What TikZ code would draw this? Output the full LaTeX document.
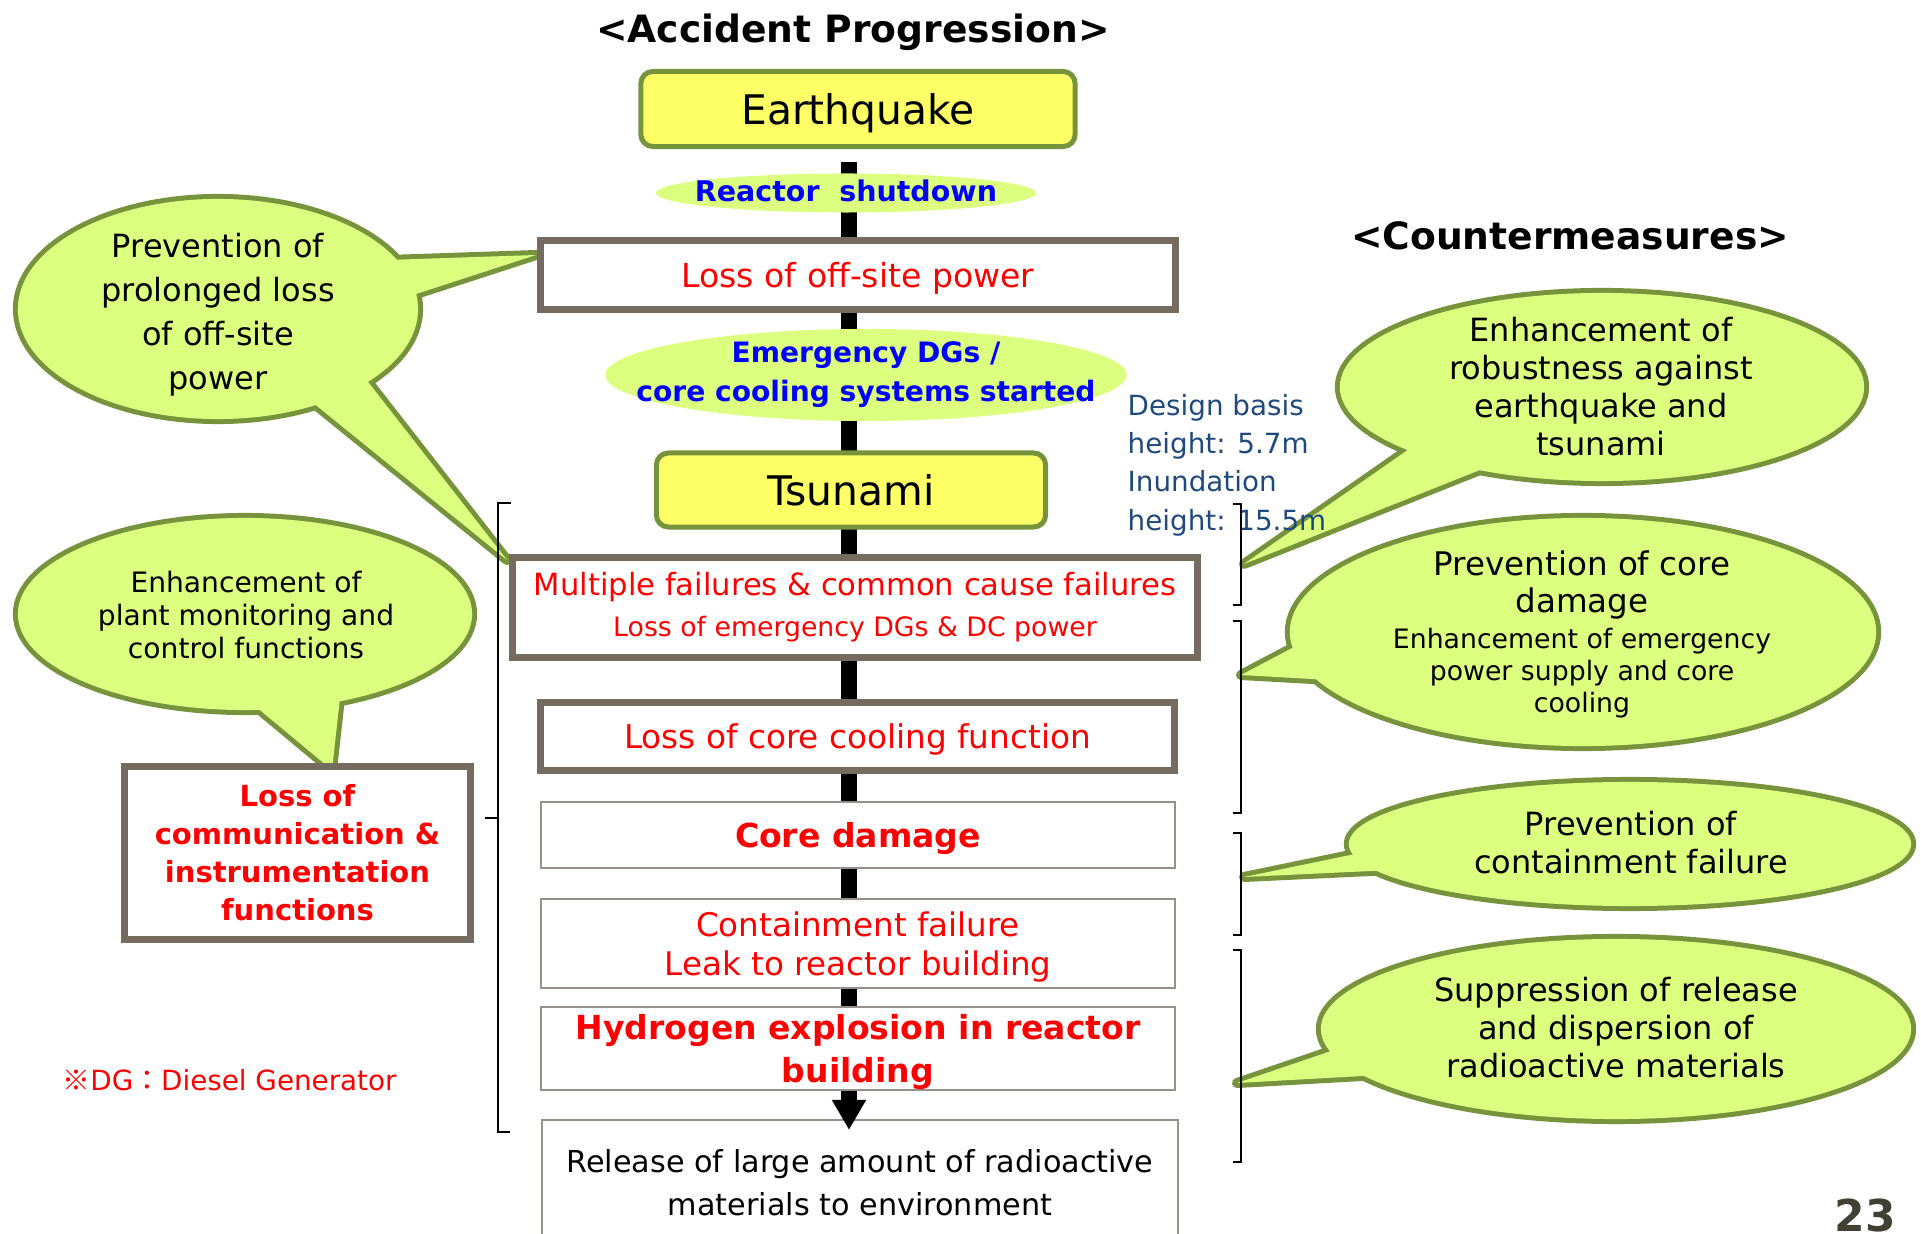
\documentclass[tikz,border=0pt]{standalone}
\usepackage{fontspec}
\setmainfont{DejaVu Sans}
\newfontfamily\cjk{Noto Sans CJK JP}
\usetikzlibrary{arrows.meta,shapes.geometric}

\definecolor{leaf}{RGB}{119,147,60}
\definecolor{lime}{RGB}{221,255,128}
\definecolor{lemon}{RGB}{255,255,102}
\definecolor{stone}{RGB}{117,107,94}
\definecolor{pebble}{RGB}{150,144,138}
\definecolor{navy}{RGB}{31,73,125}
\definecolor{pagegray}{RGB}{64,64,52}

\pgfdeclarelayer{back}
\pgfdeclarelayer{mid}
\pgfsetlayers{back,mid,main}

\newcommand{\sz}[2]{\fontsize{#1}{#2}\selectfont}
% speech bubble part: outline below, fill above
\newcommand{\bubble}[1]{%
  \begin{pgfonlayer}{back}\draw[bubedge] #1;\end{pgfonlayer}%
  \begin{pgfonlayer}{mid}\fill[lime] #1;\end{pgfonlayer}}

\tikzset{
  quakebox/.style={rectangle, draw=leaf, fill=lemon, line width=0.05cm, rounded corners=0.12cm, inner sep=0pt, text depth=0pt},
  thickbox/.style={rectangle, draw=stone, fill=white, line width=0.07cm, inner sep=0pt, align=center, text=red},
  thinbox/.style={rectangle, draw=pebble, fill=white, line width=0.02cm, inner sep=0pt, align=center, text depth=0pt},
  blob/.style={ellipse, fill=lime, inner sep=0pt},
  bluetext/.style={align=center, text=blue, inner sep=0pt},
  bubtext/.style={align=center, inner sep=0pt},
  bubedge/.style={draw=leaf, line width=0.1cm, line join=round},
  spine/.style={line width=0.16cm, black},
  brace/.style={line width=0.02cm, black}
}

\begin{document}
\begin{tikzpicture}[x=0.01cm, y=-0.01cm]
\useasboundingbox (0,0) rectangle (1921,1234);

% titles
\node[anchor=base, font=\bfseries\sz{10.7}{13}] (ttlA) at (853,43) {<Accident Progression>};
\node[anchor=base, font=\bfseries\sz{10.7}{13}] (ttlC) at (1570,250) {<Countermeasures>};

% accident chain
\node[quakebox, minimum width=4.34cm, minimum height=0.75cm, font=\sz{11.6}{14}] (quake) at (858,109) {Earthquake};
\node[blob, minimum width=3.80cm, minimum height=0.39cm] (shut) at (846,193) {};
\node[bluetext, font=\bfseries\sz{8.1}{10}] (shutlbl) at (846,191) {Reactor\ \ shutdown};
\node[thickbox, minimum width=6.35cm, minimum height=0.68cm, text depth=0pt, font=\sz{9.4}{11}] (offsite) at (858,275) {Loss of off-site power};
\node[blob, minimum width=5.21cm, minimum height=0.92cm] (emerg) at (866,375) {};
\node[bluetext, font=\bfseries\sz{8}{11.1}] (emerglbl) at (emerg) {Emergency DGs /\\core cooling systems started};
\node[quakebox, minimum width=3.89cm, minimum height=0.74cm, font=\sz{11.6}{14}] (tsunami) at (851,490) {Tsunami};
\node[thickbox, minimum width=6.85cm, minimum height=0.99cm, font=\sz{8.7}{11.7}] (multi) at (855,607.5)
  {Multiple failures \& common cause failures\\\sz{7.6}{9}Loss of emergency DGs \& DC power};
\node[thickbox, minimum width=6.34cm, minimum height=0.68cm, text depth=0pt, font=\sz{9.3}{11}] (cool) at (857.5,736.5) {Loss of core cooling function};
\node[thinbox, text=red, minimum width=6.34cm, minimum height=0.66cm, font=\bfseries\sz{9.4}{11}] (core) at (858,835) {Core damage};
\node[thinbox, text=red, minimum width=6.34cm, minimum height=0.89cm, font=\sz{9.25}{11.1}] (contain) at (858,943.5) {Containment failure\\Leak to reactor building};
\node[thinbox, text=red, minimum width=6.34cm, minimum height=0.83cm, font=\bfseries\sz{9.4}{12.2}] (hydro) at (858,1048.5) {Hydrogen explosion in reactor\\building};
\node[thinbox, minimum width=6.36cm, minimum height=1.25cm, font=\sz{8.6}{12.2}] (release) at (860,1182.5) {Release of large amount of radioactive\\materials to environment};

\coordinate (spinetop) at (849,162);
\coordinate (spinetip) at (849,1130);
\begin{pgfonlayer}{back}
\draw[spine] (spinetop) -- (spinetop |- hydro.south);
\end{pgfonlayer}
\draw[spine, -{Triangle[width=0.32cm,length=0.30cm]}] (spinetop |- hydro.south) -- (spinetip);

% left side
\node[thickbox, minimum width=3.46cm, minimum height=1.73cm, font=\bfseries\sz{8.25}{10.8}] (comm) at (297.5,853) {Loss of\\communication \&\\instrumentation\\functions};
\node[anchor=west, text=red, inner sep=0pt, font=\sz{7.9}{10}] (dgnote) at (62,1080) {{\cjk ※}DG{\cjk ：}Diesel Generator};
\node[anchor=west, text=navy, align=left, inner sep=0pt, font=\sz{7.9}{10.9}] (basis) at (1127,465) {Design basis\\height: 5.7m\\Inundation\\height: 15.5m};

\draw[brace] (511,503) -- (498,503) -- (498,1132) -- (510,1132);
\draw[brace] (498,818) -- (485,818);
\foreach \a/\b in {504/605, 621/813, 833/935, 950/1162}
  \draw[brace] (1233,\a) -- (1241,\a) -- (1241,\b) -- (1233,\b);

% bubbles
\bubble{(218,309) ellipse [x radius=2.00cm, y radius=1.10cm]}
\bubble{(388,260) -- (536,255) -- (410,296) -- cycle}
\bubble{(365,378) -- (507,560) -- (312,402) -- cycle}
\bubble{(245,614) ellipse [x radius=2.27cm, y radius=0.96cm]}
\bubble{(255,706) -- (332,770) -- (340,698) -- cycle}
\bubble{(1602,387) ellipse [x radius=2.62cm, y radius=0.94cm]}
\bubble{(1412,447) -- (1244,564) -- (1490,466) -- cycle}
\bubble{(1583,632) ellipse [x radius=2.93cm, y radius=1.14cm]}
\bubble{(1296,646) -- (1241,675) -- (1330,680) -- cycle}
\bubble{(1630,844) ellipse [x radius=2.81cm, y radius=0.62cm]}
\bubble{(1360,853) -- (1244,877) -- (1392,870) -- cycle}
\bubble{(1616,1029) ellipse [x radius=2.95cm, y radius=0.90cm]}
\bubble{(1334,1050) -- (1237,1083) -- (1380,1075) -- cycle}

\node[bubtext, font=\sz{9.1}{12.5}] (cb1) at (218,315) {Prevention of\\prolonged loss\\of off-site\\power};
\node[bubtext, font=\sz{8}{9.25}] (cb2) at (246,615) {Enhancement of\\plant monitoring and\\control functions};
\node[bubtext, font=\sz{9.1}{10.8}] (cbA) at (1601,387) {Enhancement of\\robustness against\\earthquake and\\tsunami};
\node[bubtext, font=\sz{9.25}{9.1}] (cbB) at (1582,634) {Prevention of core\\[1.7pt]damage\\[0.9pt]\sz{7.6}{9.1}Enhancement of emergency\\\sz{7.6}{9.1}power supply and core\\\sz{7.6}{9.1}cooling};
\node[bubtext, font=\sz{9.1}{10.8}] (cbC) at (1631,843) {Prevention of\\containment failure};
\node[bubtext, font=\sz{9.1}{10.8}] (cbD) at (1616,1028) {Suppression of release\\and dispersion of\\radioactive materials};

\node[anchor=base, text=pagegray, font=\bfseries\sz{12.5}{14}] (pnum) at (1865,1231) {23};
\end{tikzpicture}
\end{document}
